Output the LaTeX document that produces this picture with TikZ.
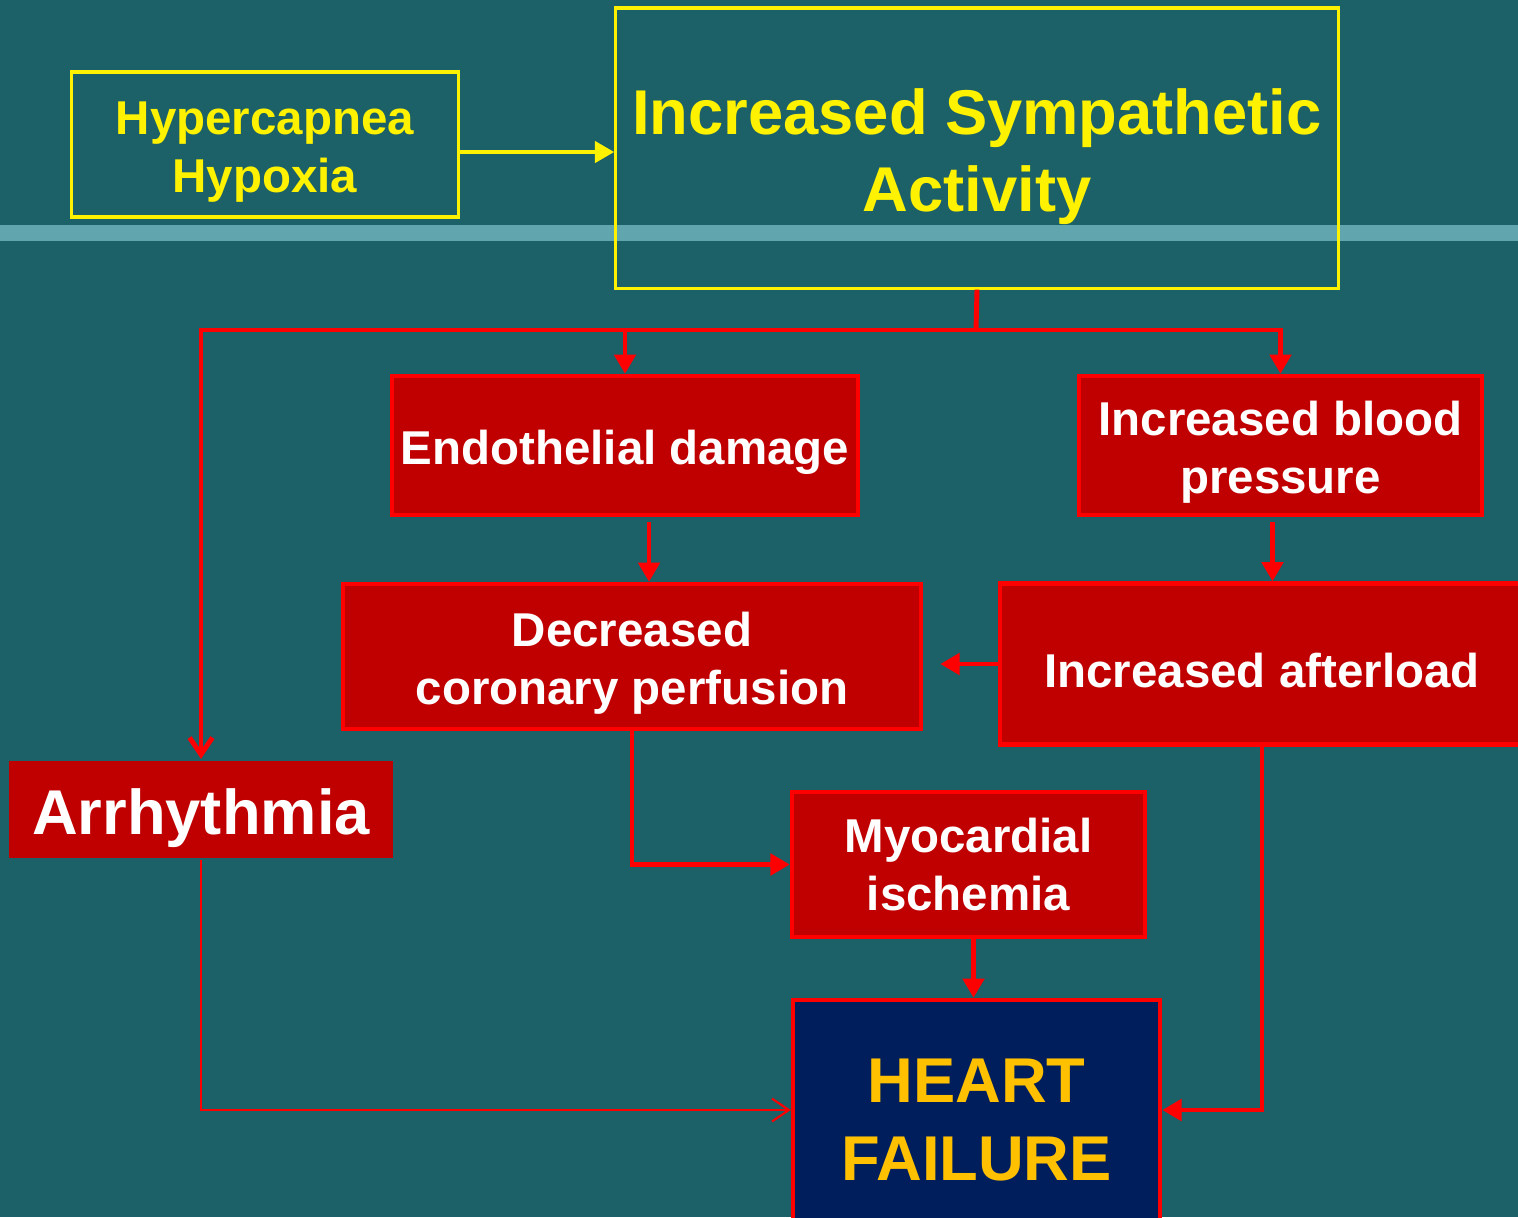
\documentclass[tikz,border=0pt]{standalone}
\usepackage{fontspec}
\setmainfont{Liberation Sans}
\usetikzlibrary{arrows.meta, positioning, calc}
\definecolor{slidebg}{RGB}{28, 96, 104}
\definecolor{bandcol}{RGB}{97, 166, 174}
\definecolor{boxred}{RGB}{192, 0, 0}
\definecolor{linered}{RGB}{255, 0, 0}
\definecolor{hfnavy}{RGB}{0, 30, 92}
\definecolor{hfgold}{RGB}{255, 192, 0}

\newcommand{\smalltext}{\bfseries\fontsize{13.5}{16.4}\selectfont}
\newcommand{\bigtext}{\bfseries\fontsize{18}{22}\selectfont}
% strut that lowers the text a little inside its box
\newcommand{\lift}{\rule{0pt}{1em}}

\tikzset{
    causebox/.style={draw=linered, line width=1.2pt, fill=boxred, text=white,
        font=\smalltext, align=center, inner sep=0pt},
    yellowbox/.style={draw=yellow, line width=0.9pt, text=yellow,
        align=center, inner sep=0pt},
    redline/.style={draw=linered, line width=1.4pt},
    thinline/.style={draw=linered, line width=0.6pt},
    filledtip/.style={-{Triangle[length=5.5pt, width=6pt]}},
    opentip/.style={-{Straight Barb[length=4.8pt, width=6.5pt]}}
}

\begin{document}
\begin{tikzpicture}[x=0.01cm, y=-0.01cm]
        \clip (0,0) rectangle (1518,1217);
        % Slide background
        \fill[slidebg] (0,0) rectangle (1518,1217);
        \fill[bandcol] (0,225) rectangle (1518,241);

        % Top boxes
        \node[yellowbox, font=\smalltext, minimum width=3.86cm, minimum height=1.45cm]
            (hyp) at (265,144.5) {\lift Hypercapnea\\Hypoxia};
        \node[yellowbox, font=\bigtext, minimum width=7.22cm, minimum height=2.80cm]
            (sym) at (977,148) {\lift Increased Sympathetic\\Activity};

        % Causes
        \node[causebox, minimum width=4.66cm, minimum height=1.39cm]
            (endo) at (625,445.5) {\lift Endothelial damage};
        \node[causebox, minimum width=4.03cm, minimum height=1.39cm]
            (bp) at (1280.5,445.5) {\lift Increased blood\\pressure};
        \node[causebox, minimum width=5.78cm, minimum height=1.45cm]
            (dec) at (632,656.5) {\lift Decreased\\coronary perfusion};
        \node[causebox, minimum width=5.24cm, minimum height=1.61cm]
            (aft) at (1262,664) {\lift Increased afterload};
        \node[causebox, minimum width=3.53cm, minimum height=1.45cm]
            (myo) at (968.5,864.5) {Myocardial\\ischemia};
        \node[causebox, draw=none, font=\bigtext, minimum width=3.84cm, minimum height=0.97cm]
            (arr) at (201,809.5) {\lift Arrhythmia};

        % Outcome
        \node[causebox, fill=hfnavy, text=hfgold, font=\bigtext,
            minimum width=3.67cm, minimum height=2.2cm]
            (hf) at (976.5,1110) {\lift HEART\\FAILURE};

        % Connectors
        \draw[yellow, line width=1.2pt, filledtip] ([yshift=-0.075cm]hyp.east)
            -- ([yshift=-0.075cm]hyp.east -| sym.west);

        \coordinate (split) at (976,330);
        \draw[redline] (sym.south) -- (split);
        \draw[redline, opentip] (split) -| (arr.north);
        \draw[redline, filledtip] (split) -| (endo.north);
        \draw[redline, filledtip] (split) -| (bp.north);

        \draw[redline, filledtip] ([xshift=0.24cm, yshift=-0.05cm]endo.south)
            -- ([xshift=0.24cm]endo.south |- dec.north);
        \draw[redline, filledtip] ([xshift=-0.08cm, yshift=-0.05cm]bp.south)
            -- ([xshift=-0.08cm]bp.south |- aft.north);
        \draw[redline, filledtip, shorten >=0.17cm] (aft.west) -- (aft.west -| dec.east);
        \draw[redline, filledtip] (dec.south) |- (myo.west);
        \draw[redline, filledtip] ([xshift=0.05cm]myo.south) -- ([xshift=0.05cm]myo.south |- hf.north);

        \draw[thinline, opentip] (arr.south) |- (hf.west);
        \draw[redline, filledtip] (aft.south) |- (hf.east);

    \end{tikzpicture}
\end{document}
